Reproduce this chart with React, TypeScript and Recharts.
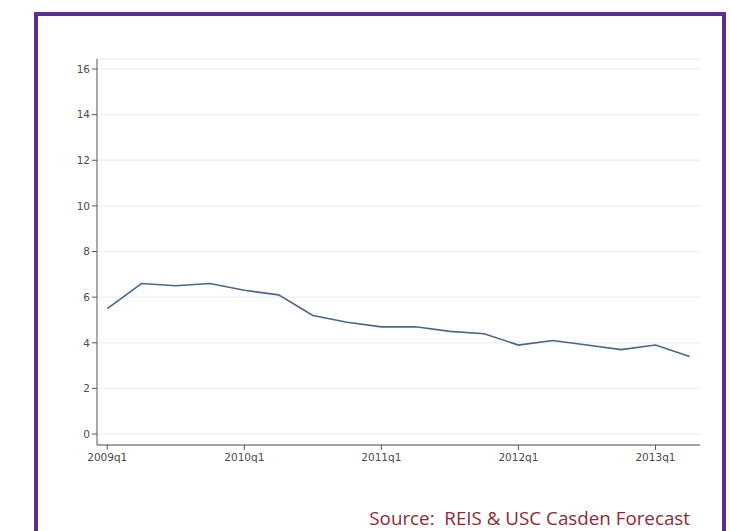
import { LineChart, Line, XAxis, YAxis, CartesianGrid } from 'recharts';

// quarterly series, 2009q1 .. 2013q2
const quarters = [
  '2009q1', '2009q2', '2009q3', '2009q4',
  '2010q1', '2010q2', '2010q3', '2010q4',
  '2011q1', '2011q2', '2011q3', '2011q4',
  '2012q1', '2012q2', '2012q3', '2012q4',
  '2013q1', '2013q2',
];
const values = [5.5, 6.6, 6.5, 6.6, 6.3, 6.1, 5.2, 4.9, 4.7, 4.7, 4.5, 4.4, 3.9, 4.1, 3.9, 3.7, 3.9, 3.4];
const yTicks = [0, 2, 4, 6, 8, 10, 12, 14, 16];
const xTicks = [0, 4, 8, 12, 16];

const data = quarters.map((q, i) => ({ idx: i, label: q, value: values[i] }));

const tickStyle = { fill: '#4a4a4a', fontSize: 10.5, fontFamily: '"DejaVu Sans", sans-serif' };

export default function App() {
  return (
    <div style={{ position: 'fixed', left: 0, top: 0, width: 730, height: 531, background: '#fff', overflow: 'hidden' }}>
      {/* purple frame, bottom edge runs off the page */}
      <div
        style={{
          position: 'absolute', left: 34, top: 12, width: 684, height: 560,
          border: '4px solid #5c2e8f', boxSizing: 'content-box',
        }}
      />
      <div style={{ position: 'absolute', left: 0, top: 0 }}>
        <LineChart width={730} height={531} data={data} margin={{ top: 59, right: 30, bottom: 56, left: 0 }}>
          <CartesianGrid horizontal vertical={false} stroke="#efefef" strokeWidth={1.5} />
          <XAxis
            dataKey="idx"
            type="number"
            domain={[-0.3, 17.3]}
            ticks={xTicks}
            tickFormatter={(v: number) => quarters[v]}
            tick={tickStyle}
            tickSize={5}
            tickMargin={4}
            height={30}
            stroke="#555"
            allowDataOverflow
          />
          <YAxis
            type="number"
            domain={[-0.48, 16.44]}
            ticks={yTicks}
            tick={tickStyle}
            tickSize={5}
            width={97}
            stroke="#555"
            allowDataOverflow
          />
          <Line
            type="linear"
            dataKey="value"
            stroke="#4a6689"
            strokeWidth={1.6}
            dot={false}
            isAnimationActive={false}
          />
        </LineChart>
      </div>
      <div
        style={{
          position: 'absolute', right: 40, top: 505,
          color: '#8e2a34', fontSize: 18.8, fontFamily: '"Open Sans", sans-serif', whiteSpace: 'pre',
        }}
      >
        {'Source:  REIS & USC Casden Forecast'}
      </div>
    </div>
  );
}
